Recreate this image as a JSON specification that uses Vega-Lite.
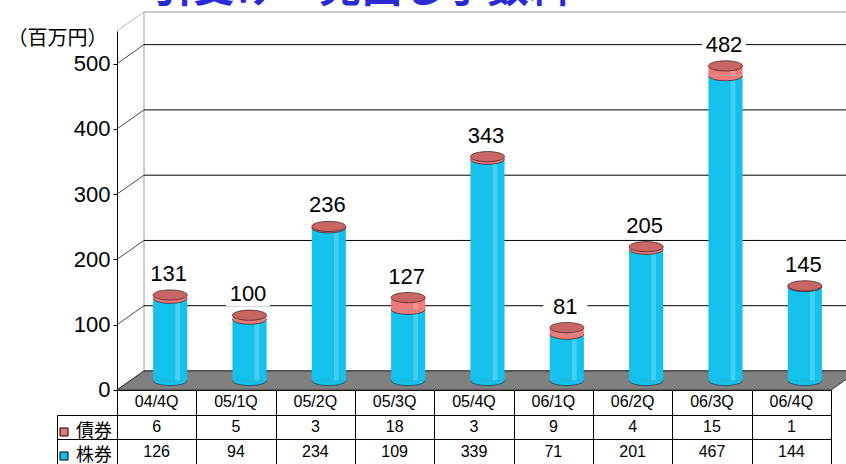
{
  "$schema": "https://vega.github.io/schema/vega-lite/v6.json",
  "width": 714,
  "height": 433,
  "autosize": "none",
  "padding": {"left": 117, "top": 31, "right": 15, "bottom": 0},
  "background": "white",
  "config": {
    "font": "Liberation Sans",
    "view": {"stroke": null},
    "axisX": {"labels": false, "offset": -74, "tickBand": "extent", "tickSize": 74, "tickColor": "black", "domainColor": "black", "grid": false, "ticks": true, "domain": true}
  },
  "title": {
    "text": "引受け・売出し手数料",
    "font": "Noto Sans CJK JP",
    "fontSize": 42,
    "fontWeight": "bold",
    "color": "#2b2bd6",
    "anchor": "middle",
    "frame": "group",
    "offset": 0,
    "baseline": "bottom",
    "dx": -113,
    "dy": 43
  },
  "datasets": {
    "parts": [
      {"q": "04/4Q", "series": "債券", "value": 6},
      {"q": "05/1Q", "series": "債券", "value": 5},
      {"q": "05/2Q", "series": "債券", "value": 3},
      {"q": "05/3Q", "series": "債券", "value": 18},
      {"q": "05/4Q", "series": "債券", "value": 3},
      {"q": "06/1Q", "series": "債券", "value": 9},
      {"q": "06/2Q", "series": "債券", "value": 4},
      {"q": "06/3Q", "series": "債券", "value": 15},
      {"q": "06/4Q", "series": "債券", "value": 1},
      {"q": "04/4Q", "series": "株券", "value": 126},
      {"q": "05/1Q", "series": "株券", "value": 94},
      {"q": "05/2Q", "series": "株券", "value": 234},
      {"q": "05/3Q", "series": "株券", "value": 109},
      {"q": "05/4Q", "series": "株券", "value": 339},
      {"q": "06/1Q", "series": "株券", "value": 71},
      {"q": "06/2Q", "series": "株券", "value": 201},
      {"q": "06/3Q", "series": "株券", "value": 467},
      {"q": "06/4Q", "series": "株券", "value": 144}
    ],
    "totals": [
      {"q": "04/4Q", "total": 131},
      {"q": "05/1Q", "total": 100},
      {"q": "05/2Q", "total": 236},
      {"q": "05/3Q", "total": 127},
      {"q": "05/4Q", "total": 343},
      {"q": "06/1Q", "total": 81},
      {"q": "06/2Q", "total": 205},
      {"q": "06/3Q", "total": 482},
      {"q": "06/4Q", "total": 145}
    ],
    "ticks": [{"v": 0}, {"v": 100}, {"v": 200}, {"v": 300}, {"v": 400}, {"v": 500}, {"v": 550}],
    "one": [{"n": 1}]
  },
  "resolve": {"scale": {"y": "independent"}, "axis": {"y": "independent"}},
  "layer": [
    {
      "resolve": {"axis": {"y": "independent"}},
      "layer": [
        {
          "data": {"name": "one"},
          "mark": {"type": "rule", "color": "#9a9a9a", "xOffset": 27, "yOffset": -19, "y2Offset": -19},
          "encoding": {
            "x": {"datum": "04/4Q", "type": "nominal", "bandPosition": 0, "title": null, "scale": {"type": "band", "domain": ["04/4Q", "05/1Q", "05/2Q", "05/3Q", "05/4Q", "06/1Q", "06/2Q", "06/3Q", "06/4Q"], "paddingInner": 0, "paddingOuter": 0}},
            "y": {"datum": 0, "type": "quantitative", "scale": {"domain": [-113.4, 550], "nice": false, "zero": false}, "axis": null},
            "y2": {"datum": 550}
          }
        },
        {
          "data": {"name": "ticks"},
          "transform": [{"filter": "datum.v <= 500"}],
          "mark": {"type": "rule", "color": "black", "strokeWidth": 1, "xOffset": 27, "x2Offset": 27, "yOffset": -19},
          "encoding": {
            "x": {"datum": "04/4Q", "type": "nominal", "bandPosition": 0, "title": null},
            "x2": {"value": "width"},
            "y": {"field": "v", "type": "quantitative", "axis": null}
          }
        },
        {
          "data": {"name": "one"},
          "mark": {"type": "rule", "color": "#9a9a9a", "xOffset": 27, "x2Offset": 27, "yOffset": -19},
          "encoding": {
            "x": {"datum": "04/4Q", "type": "nominal", "bandPosition": 0, "title": null},
            "x2": {"value": "width"},
            "y": {"datum": 550, "type": "quantitative", "axis": null}
          }
        },
        {
          "data": {"name": "ticks"},
          "mark": {"type": "point", "shape": "M0,0 L1,-0.7037", "size": 2916, "filled": false, "strokeWidth": 1},
          "encoding": {
            "x": {"datum": "04/4Q", "type": "nominal", "bandPosition": 0, "title": null},
            "y": {"field": "v", "type": "quantitative", "axis": null},
            "stroke": {"condition": {"test": "datum.v > 500", "value": "#9a9a9a"}, "value": "black"}
          }
        },
        {
          "data": {"name": "one"},
          "mark": {"type": "point", "shape": "M0,0 L26.444,0 L27.444,-0.7037 L1,-0.7037 Z", "size": 2916, "filled": true, "fill": "#808080", "fillOpacity": 1, "stroke": "#333333", "strokeWidth": 1},
          "encoding": {
            "x": {"datum": "04/4Q", "type": "nominal", "bandPosition": 0, "title": null},
            "y": {"datum": 0, "type": "quantitative", "axis": null}
          }
        },
        {
          "data": {"name": "totals"},
          "mark": {"type": "point", "shape": "M-1,0 A1,0.3 0 0,0 1,0", "size": 1156, "filled": true, "fill": "#13c1ec", "fillOpacity": 1, "stroke": "#1d3d4d", "strokeWidth": 0.8, "xOffset": 13.5, "yOffset": -9.5},
          "encoding": {
            "x": {"field": "q", "type": "nominal", "title": null},
            "y": {"datum": 0, "type": "quantitative", "axis": null}
          }
        },
        {
          "data": {"name": "parts"},
          "mark": {"type": "bar", "width": {"band": 0.43}, "xOffset": 13.5, "yOffset": -9.5, "y2Offset": -9.5},
          "encoding": {
            "x": {"field": "q", "type": "nominal", "title": null},
            "y": {"field": "value", "type": "quantitative", "stack": "zero",
              "axis": {"orient": "left", "values": [0, 100, 200, 300, 400, 500], "grid": false, "labelFontSize": 22, "labelColor": "black", "labelPadding": 3, "tickColor": "black", "tickSize": 4, "domainColor": "black",
                "title": "（百万円）", "titleAngle": 0, "titleX": -60, "titleY": 7, "titleAlign": "center", "titleBaseline": "middle", "titleFont": "Noto Sans CJK JP", "titleFontSize": 20, "titleFontWeight": "normal", "titleColor": "black"}},
            "color": {"field": "series", "type": "nominal", "scale": {"domain": ["債券", "株券"], "range": ["#f07878", "#13c1ec"]},
              "legend": {"orient": "none", "legendX": -67, "legendY": 387, "title": null, "symbolType": "square", "symbolSize": 64, "symbolStrokeColor": "black", "symbolStrokeWidth": 1, "symbolOpacity": 1, "labelFont": "Noto Sans CJK JP", "labelFontSize": 18, "labelColor": "black", "labelOffset": 3, "padding": 5, "rowPadding": 6}},
            "order": {"field": "series", "sort": "descending"}
          }
        },
        {
          "data": {"name": "totals"},
          "mark": {"type": "bar", "width": {"band": 0.06}, "xOffset": 21, "yOffset": -9.5, "y2Offset": -9.5, "color": "white", "opacity": 0.22},
          "encoding": {
            "x": {"field": "q", "type": "nominal", "title": null},
            "y": {"field": "total", "type": "quantitative", "axis": null},
            "y2": {"datum": 0}
          }
        },
        {
          "data": {"name": "parts"},
          "transform": [{"filter": "datum.series === '株券'"}],
          "mark": {"type": "point", "shape": "M-1,0 A1,0.3 0 0,0 1,0", "size": 1156, "filled": true, "fill": "#f07878", "fillOpacity": 1, "stroke": "#3a2020", "strokeWidth": 0.7, "xOffset": 13.5, "yOffset": -9.5},
          "encoding": {
            "x": {"field": "q", "type": "nominal", "title": null},
            "y": {"field": "value", "type": "quantitative", "axis": null}
          }
        },
        {
          "data": {"name": "totals"},
          "mark": {"type": "point", "shape": "M-1,0 A1,0.3 0 1,0 1,0 A1,0.3 0 1,0 -1,0 Z", "size": 1156, "filled": true, "fill": "#c86666", "fillOpacity": 1, "stroke": "#3a2020", "strokeWidth": 0.7, "xOffset": 13.5, "yOffset": -9.5},
          "encoding": {
            "x": {"field": "q", "type": "nominal", "title": null},
            "y": {"field": "total", "type": "quantitative", "axis": null}
          }
        },
        {
          "data": {"name": "totals"},
          "mark": {"type": "point", "shape": "M-1,-0.55 L1,-0.55 L1,0.55 L-1,0.55 Z", "size": 1936, "filled": true, "fill": "white", "fillOpacity": 1, "strokeWidth": 0, "xOffset": 12, "yOffset": -30.5},
          "encoding": {
            "x": {"field": "q", "type": "nominal", "title": null},
            "y": {"field": "total", "type": "quantitative", "axis": null}
          }
        },
        {
          "data": {"name": "totals"},
          "mark": {"type": "text", "fontSize": 22, "color": "black", "baseline": "middle", "align": "center", "xOffset": 12, "yOffset": -30.5},
          "encoding": {
            "x": {"field": "q", "type": "nominal", "title": null},
            "y": {"field": "total", "type": "quantitative", "axis": null},
            "text": {"field": "total", "type": "quantitative"}
          }
        }
      ]
    },
    {
      "layer": [
        {
          "data": {"name": "parts"},
          "mark": {"type": "text", "fontSize": 16, "color": "black", "baseline": "middle", "align": "center"},
          "encoding": {
            "x": {"field": "q", "type": "nominal", "title": null},
            "y": {"field": "series", "type": "nominal", "scale": {"type": "band", "domain": ["hdr", "債券", "株券"], "paddingInner": 0, "paddingOuter": 0, "range": [359, 433]},
              "axis": {"orient": "left", "offset": 60, "tickBand": "extent", "values": ["債券", "株券"], "grid": true, "gridColor": "black", "gridOpacity": 1, "ticks": true, "tickSize": -60, "tickColor": "black", "labels": false, "domain": true, "domainColor": "black", "domainDash": [0, 25, 60], "title": null}},
            "text": {"field": "value", "type": "quantitative"}
          }
        },
        {
          "data": {"name": "totals"},
          "mark": {"type": "text", "fontSize": 16, "color": "black", "baseline": "middle", "align": "center"},
          "encoding": {
            "x": {"field": "q", "type": "nominal", "title": null},
            "y": {"datum": "hdr", "type": "nominal"},
            "text": {"field": "q", "type": "nominal"}
          }
        }
      ]
    }
  ]
}
